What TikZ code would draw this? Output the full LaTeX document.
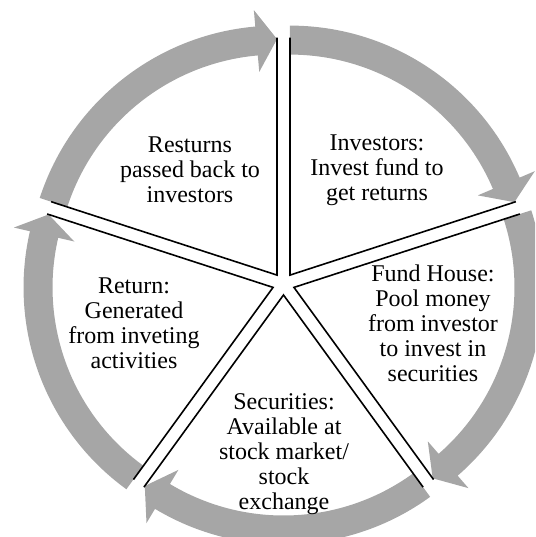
\documentclass[tikz,border=0pt]{standalone}
\usepackage{fontspec}
\setmainfont{Liberation Serif}
\definecolor{bandgray}{RGB}{166,166,166}
\begin{document}
\begin{tikzpicture}[
  lbl/.style={align=center, font=\fontsize{24}{25}\selectfont, inner sep=0pt},
  edge/.style={line width=1.6pt, draw=black},
  band/.style={fill=bandgray}
]
\useasboundingbox (-283.5pt,-253pt) rectangle (251.5pt,284pt);
\clip (-283.5pt,-253pt) rectangle (251.5pt,284pt);
% circular arrow bands
\foreach \b in {54,-18,-90,-162,126} {
  \pgfmathsetmacro\s{\b+36}
  \pgfmathsetmacro\e{\b-36}
  \pgfmathsetmacro\h{\b-31}
  \begin{scope}[shift={(\b:11pt)}]
    \fill[band] (\s:249.5pt) arc[start angle=\s, end angle=\h, radius=249.5pt]
      -- (\h:266pt) -- (\e:236pt) -- (\h:204pt) -- (\h:220.5pt)
      arc[start angle=\h, end angle=\s, radius=220.5pt] -- cycle;
  \end{scope}
}
% wedge edges
\foreach \b in {54,-18,-90,-162,126} {
  \pgfmathsetmacro\s{\b+36}
  \pgfmathsetmacro\e{\b-36}
  \begin{scope}[shift={(\b:11pt)}]
    \coordinate (o\b) at (0,0);
    \coordinate (s\b) at (\s:237.5pt);
    \coordinate (e\b) at (\e:237.5pt);
    \draw[edge] (s\b) -- (o\b) -- (e\b);
  \end{scope}
}
\node[lbl] (resturns) at (-93.5pt,114pt) {Resturns\\passed back to\\investors};
\node[lbl] (investors) at (93.5pt,114pt) {Investors:\\Invest fund to\\get returns};
\node[lbl] (fundhouse) at (149.5pt,-39pt) {Fund House:\\Pool money\\from investor\\to invest in\\securities};
\node[lbl] (return) at (-149.5pt,-39pt) {Return:\\Generated\\from inveting\\activities};
\node[lbl] (securities) at (0.5pt,-170pt) {Securities:\\Available at\\stock market/\\stock\\exchange};
\end{tikzpicture}
\end{document}
